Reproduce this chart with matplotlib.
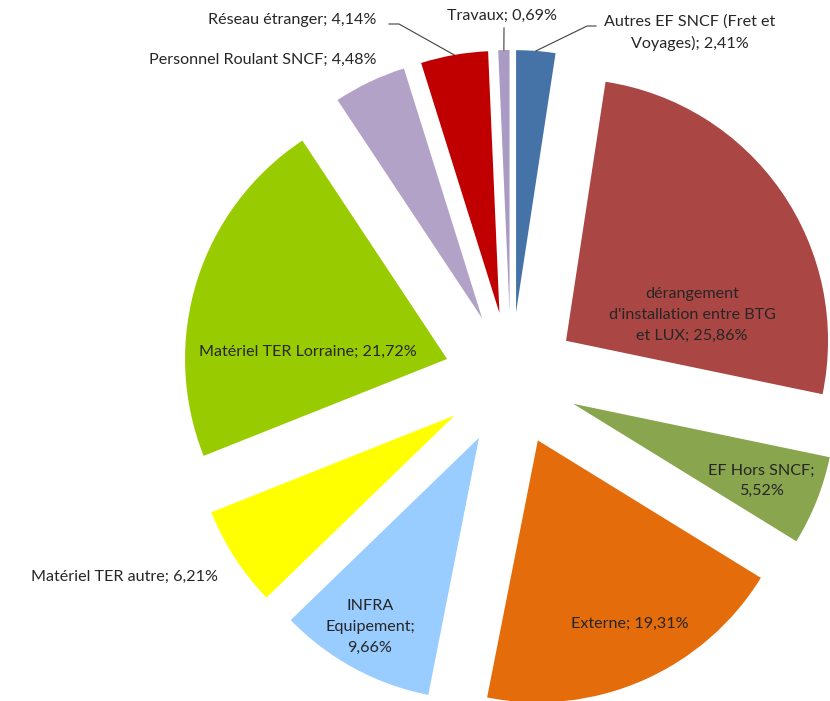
import numpy as np
import matplotlib.pyplot as plt

# data, clockwise from 12 o'clock
categories = ["Autres EF SNCF (Fret et\nVoyages)",
              "dérangement\nd'installation entre BTG\net LUX",
              "EF Hors SNCF",
              "Externe",
              "INFRA\nEquipement",
              "Matériel TER autre",
              "Matériel TER Lorraine",
              "Personnel Roulant SNCF",
              "Réseau étranger",
              "Travaux"]
values = [2.41, 25.86, 5.52, 19.31, 9.66, 6.21, 21.72, 4.48, 4.14, 0.69]
seps = ["; ", "; ", ";\n", "; ", ";\n", "; ", "; ", "; ", "; ", "; "]

colors = ["#4572A7", "#AA4643", "#89A54E", "#E46C0A", "#99CCFF",
          "#FFFF00", "#99CC00", "#B3A2C7", "#C00000", "#A99BC4"]

W, H = 830, 701
center = (511, H - 379)
radius = 262
explode = [67] * len(values)

# label anchors in pixels (x, y from top)
label_pos = [(690, 33), (692, 315), (761, 481), (630, 624), (370, 627),
             (124, 577), (308, 352), (263, 60), (292, 20), (502, 16)]
# leader line bends (pixels from top), None = no leader
leaders = [[(587, 26), (596, 26)], None, None, None, None,
           None, None, None, [(399, 24), (389, 24)], [(504, 28)]]

fig = plt.figure(figsize=(W / 100, H / 100), dpi=100)
ax = fig.add_axes([0, 0, 1, 1])

wedges, _ = ax.pie(values, colors=colors, startangle=90, counterclock=False,
                   radius=radius, center=center, explode=explode)

for w, cat, v, sep, pos, lead in zip(wedges, categories, values, seps, label_pos, leaders):
    txt = cat + sep + f"{v:.2f}".replace(".", ",") + "%"
    ax.text(pos[0], H - pos[1], txt, ha="center", va="center", fontsize=11.6,
            family="Lato", color="#262626", linespacing=1.6)
    if lead is not None:
        th = np.deg2rad((w.theta1 + w.theta2) / 2)
        cx, cy = w.center
        xs = [cx + radius * np.cos(th)] + [p[0] for p in lead]
        ys = [cy + radius * np.sin(th)] + [H - p[1] for p in lead]
        ax.plot(xs, ys, color="#404040", lw=0.8)

ax.set_xlim(0, W)
ax.set_ylim(0, H)
ax.axis("off")

fig.savefig("out.png", dpi=100)
